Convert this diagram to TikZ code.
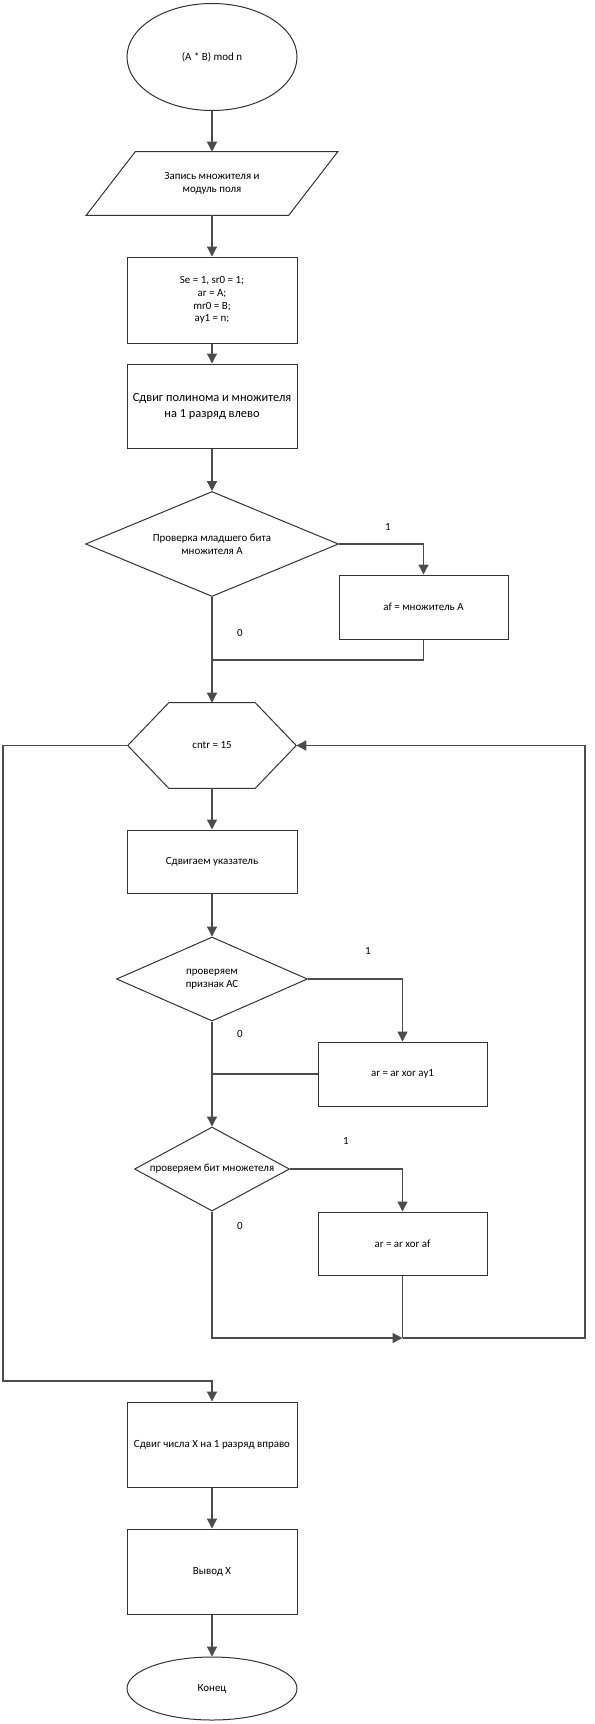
\documentclass[tikz,border=0pt]{standalone}
\usepackage{fontspec}
\setmainfont{Carlito}
\usetikzlibrary{shapes.geometric,arrows.meta,calc}
\begin{document}
\begin{tikzpicture}[x=0.75pt,y=-0.75pt,
  every node/.style={font=\fontsize{8.2}{9.6}\selectfont, inner sep=0pt, align=center},
  wpx/.style={minimum width=#1*0.75pt},
  hpx/.style={minimum height=#1*0.75pt},
  box/.style={draw=black!80, line width=0.75pt, rectangle},
  oval/.style={draw=black!80, line width=0.75pt, ellipse},
  dia/.style={draw=black!80, line width=0.75pt, diamond},
  shp/.style={draw=black!80, line width=0.75pt},
  conn/.style={draw=black!70, line width=1pt},
  arr/.style={conn, -{Triangle[length=7.5pt,width=7.5pt]}},
  lab/.style={font=\fontsize{8.2}{9}\selectfont}]
\useasboundingbox (0,0) rectangle (595,1724);

% nodes
\node[oval, wpx=170, hpx=107] (start) at (212,57) {(A * B) mod n};
\node[wpx=251, hpx=63] (par) at (212,183.5) {Запись множителя и\\модуль поля};
\draw[shp] ($(par.north west)+(49,0)$) -- (par.north east) -- ($(par.south east)+(-49,0)$) -- (par.south west) -- cycle;
\node[box, wpx=170, hpx=86] (init) at (212,300) {Se = 1, sr0 = 1;\\ar = A;\\mr0 = B;\\ay1 = n;};
\node[box, wpx=170, hpx=84, font=\fontsize{9.3}{12}\selectfont] (shift) at (212,406) {Сдвиг полинома и множителя\\на 1 разряд влево};
\node[dia, aspect=2.41, wpx=253, hpx=105] (d1) at (212,544) {Проверка младшего бита\\множителя А};
\node[box, wpx=169, hpx=64] (af) at (423.5,607) {af = множитель А};
\node[wpx=168, hpx=85] (hex) at (212,745.5) {cntr = 15};
\draw[shp] (hex.west) -- ($(hex.north west)+(41,0)$) -- ($(hex.north east)+(-41,0)$) -- (hex.east) -- ($(hex.south east)+(-41,0)$) -- ($(hex.south west)+(41,0)$) -- cycle;
\node[box, wpx=170, hpx=63] (ptr) at (212,861.5) {Сдвигаем указатель};
\node[dia, aspect=2.27, wpx=191, hpx=84] (d2) at (212,979) {проверяем\\признак АС};
\node[box, wpx=169, hpx=64] (xor1) at (402.5,1074) {ar = ar xor ay1};
\node[dia, aspect=1.85, wpx=155, hpx=84] (d3) at (212,1169) {проверяем бит множетеля};
\node[box, wpx=169, hpx=63] (xor2) at (402.5,1243.5) {ar = ar xor af};
\node[box, wpx=170, hpx=85] (shiftx) at (212,1444.5) {Сдвиг числа X на 1 разряд вправо};
\node[box, wpx=170, hpx=85] (out) at (212,1571.5) {Вывод X};
\node[oval, wpx=170, hpx=63] (endn) at (212,1688.5) {Конец};

% labels
\node[lab] (one1) at (388,527) {1};
\node[lab] (zero1) at (240,633) {0};
\node[lab] (one2) at (368,951) {1};
\node[lab] (zero2) at (240,1034) {0};
\node[lab] (one3) at (346,1141) {1};
\node[lab] (zero3) at (240,1226) {0};

% helper coordinates
\coordinate (m1) at (212,660);
\coordinate (m3) at (402.5,1338);
\coordinate (r1) at (585,1338);
\coordinate (l1) at (3,1381);

% connectors
\draw[arr] (start.south) -- (par.north);
\draw[arr] (par.south) -- (init.north);
\draw[arr] (init.south) -- (shift.north);
\draw[arr] (shift.south) -- (d1.north);
\draw[arr] (d1.east) -| (af.north);
\draw[conn] (af.south) |- (m1);
\draw[arr] (d1.south) -- (hex.north);
\draw[arr] (hex.south) -- (ptr.north);
\draw[arr] (ptr.south) -- (d2.north);
\draw[arr] (d2.east) -| (xor1.north);
\draw[conn] (xor1.west) -- (xor1.west -| d2.south);
\draw[arr] (d2.south) -- (d3.north);
\draw[arr] (d3.east) -| (xor2.north);
\draw[arr] (d3.south) |- (m3);
\draw[conn] (xor2.south) -- (m3);
\draw[arr] (m3) -- (r1) |- (hex.east);
\draw[arr] (hex.west) -| (l1) -| (shiftx.north);
\draw[arr] (shiftx.south) -- (out.north);
\draw[arr] (out.south) -- (endn.north);
\end{tikzpicture}
\end{document}
